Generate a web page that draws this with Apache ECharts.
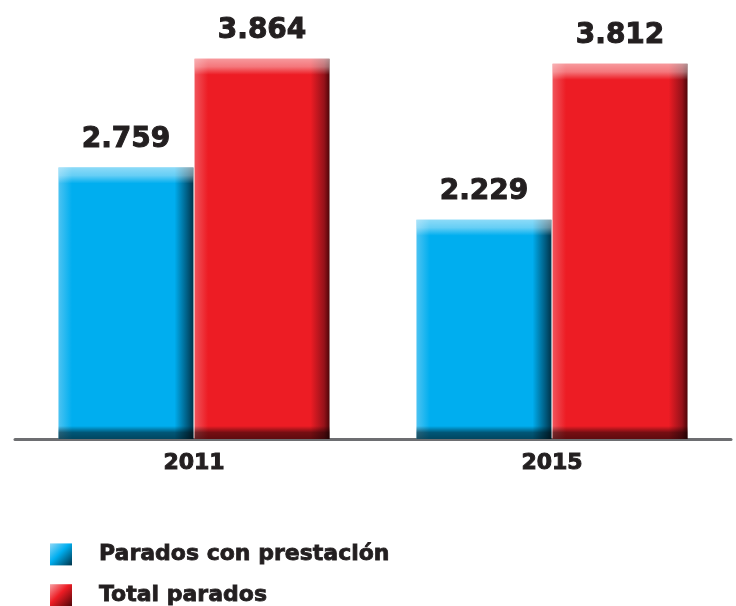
<!DOCTYPE html>
<html>
<head>
<meta charset="utf-8">
<script src="https://cdn.jsdelivr.net/npm/echarts@6/dist/echarts.min.js"></script>
<style>
  html, body { margin: 0; padding: 0; background: #fff; }
  #chart { width: 736px; height: 606px; }
</style>
</head>
<body>
<div id="chart"></div>
<script>
  // datos
  var years = ['2011', '2015']
  var seriesNames = ['Parados con prestación', 'Total parados']
  var paradosPrestacion = [2.759, 2.229]
  var totalParados = [3.864, 3.812]

  var gridTop = 6, gridBottom = 167
  var yMax = 4.4
  var pxPerUnit = (606 - gridTop - gridBottom) / yMax
  var font = 'DejaVu Sans, Liberation Sans, sans-serif'
  var ink = '#231f20'

  function hGrad (light, base, dark, darker) {
    return new echarts.graphic.LinearGradient(0, 0, 1, 0, [
      { offset: 0, color: light },
      { offset: 0.1, color: base },
      { offset: 0.86, color: base },
      { offset: 0.96, color: dark },
      { offset: 1, color: darker }
    ])
  }
  var blue = hGrad('#4cc3f2', '#00aeef', '#00577a', '#003349')
  var red = hGrad('#f0545b', '#ed1c24', '#95121a', '#4e0508')

  // sombreado arriba/abajo (bisel), en px convertido a fracción de la barra
  function bevel (values) {
    return values.map(function (v) {
      var h = v * pxPerUnit
      var t = 16 / h, b = 13 / h
      return {
        value: v,
        itemStyle: {
          color: new echarts.graphic.LinearGradient(0, 0, 0, 1, [
            { offset: 0, color: 'rgba(255,255,255,0.55)' },
            { offset: t * 0.5, color: 'rgba(255,255,255,0.4)' },
            { offset: t, color: 'rgba(255,255,255,0)' },
            { offset: 1 - b, color: 'rgba(0,0,0,0)' },
            { offset: 1 - b * 0.5, color: 'rgba(0,0,0,0.5)' },
            { offset: 1, color: 'rgba(0,0,0,0.6)' }
          ])
        }
      }
    })
  }

  var labelStyle = {
    show: true,
    position: 'top',
    distance: 14,
    fontFamily: font,
    fontWeight: 'bold',
    fontSize: 28,
    color: ink,
    textBorderColor: ink,
    textBorderWidth: 1,
    formatter: function (p) { return p.value.toFixed(3) }
  }

  var legendBlue = new echarts.graphic.LinearGradient(0, 0, 1, 1, [
    { offset: 0, color: '#8fd8f7' },
    { offset: 0.45, color: '#00aeef' },
    { offset: 1, color: '#003349' }
  ])
  var legendRed = new echarts.graphic.LinearGradient(0, 0, 1, 1, [
    { offset: 0, color: '#f7a0a3' },
    { offset: 0.45, color: '#ed1c24' },
    { offset: 1, color: '#4e0508' }
  ])

  var myChart = echarts.init(document.getElementById('chart'))
  var xAxisBase = {
    type: 'category',
    data: years,
    axisTick: { show: false },
    axisLine: { lineStyle: { color: '#6d6e71', width: 3 } },
    axisLabel: {
      margin: 13,
      fontFamily: font,
      fontWeight: 'bold',
      fontSize: 22,
      color: ink,
      textBorderColor: ink,
      textBorderWidth: 1
    }
  }
  myChart.setOption({
    animation: false,
    grid: { left: 15, right: 5, top: gridTop, bottom: gridBottom },
    legend: {
      orient: 'vertical',
      left: 50,
      top: 543,
      height: 120,
      padding: 0,
      itemWidth: 22,
      itemHeight: 22,
      itemGap: 18,
      icon: 'rect',
      textStyle: {
        fontFamily: font,
        fontWeight: 'bold',
        fontSize: 22,
        lineHeight: 22,
        color: ink,
        textBorderColor: ink,
        textBorderWidth: 0.8,
        padding: [0, 0, 0, 22]
      },
      data: [
        { name: seriesNames[0], itemStyle: { color: legendBlue } },
        { name: seriesNames[1], itemStyle: { color: legendRed } }
      ]
    },
    xAxis: [
      xAxisBase,
      Object.assign({}, xAxisBase, { show: false })
    ],
    yAxis: { type: 'value', min: 0, max: yMax, show: false, splitLine: { show: false } },
    series: [
      {
        name: seriesNames[0], type: 'bar', xAxisIndex: 0,
        barWidth: 135, barGap: '0.8%',
        itemStyle: { color: blue },
        label: labelStyle,
        data: paradosPrestacion
      },
      {
        name: seriesNames[1], type: 'bar', xAxisIndex: 0,
        barWidth: 135, barGap: '0.8%',
        itemStyle: { color: red },
        label: labelStyle,
        data: totalParados
      },
      {
        name: 'bevel1', type: 'bar', xAxisIndex: 1, silent: true,
        barWidth: 135, barGap: '0.8%', z: 3,
        data: bevel(paradosPrestacion)
      },
      {
        name: 'bevel2', type: 'bar', xAxisIndex: 1, silent: true,
        barWidth: 135, barGap: '0.8%', z: 3,
        data: bevel(totalParados)
      }
    ]
  })
</script>
</body>
</html>
